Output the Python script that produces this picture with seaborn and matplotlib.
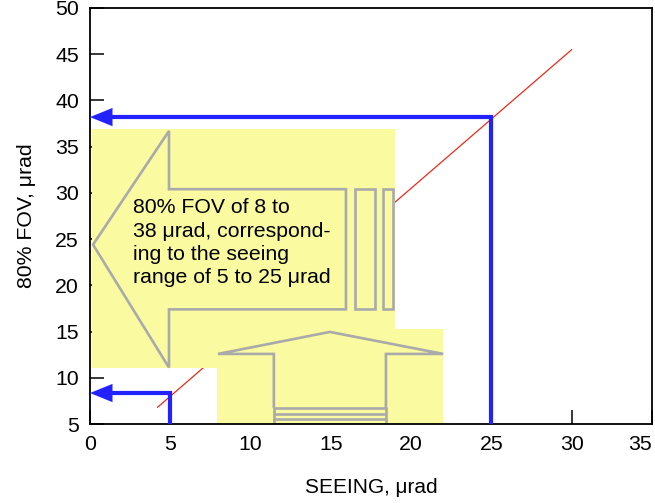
import matplotlib
matplotlib.use("Agg")
import matplotlib.pyplot as plt
import seaborn as sns
import pandas as pd
from matplotlib.patches import Rectangle, Polygon

sns.set_theme(style="white")
plt.rcParams['font.family'] = ['Liberation Sans', 'DejaVu Sans']

# Data
seeing_line = [4.2, 30.0]
fov_line = [6.8, 45.5]
seeing_marks = [5, 25]
fov_marks = [8.35, 38.2]
x_ticks = [0, 5, 10, 15, 20, 25, 30, 35]
y_ticks = [5, 10, 15, 20, 25, 30, 35, 40, 45, 50]
note = "80% FOV of 8 to\n38 \u03bcrad, correspond-\ning to the seeing\nrange of 5 to 25 \u03bcrad"

fig = plt.figure(figsize=(6.55, 5.03), dpi=100)
ax = fig.add_axes([90/655, 79/503, 562/655, 416/503])

df = pd.DataFrame({"seeing": seeing_line, "fov": fov_line})
sns.lineplot(data=df, x="seeing", y="fov", ax=ax, color="#ee2a1a", lw=0.9, sort=False, zorder=1)

yellow = "#fafaa0"
gray = "#aaaaaa"
glw = 1.9
ax.add_patch(Rectangle((0.12, 11.06), 18.9, 25.84, facecolor=yellow, edgecolor="none", zorder=1.5))
ax.add_patch(Rectangle((7.9, 5.0), 14.1, 10.3, facecolor=yellow, edgecolor="none", zorder=1.5))

# Left arrow outline
left_arrow = [(0.19, 24.4), (4.92, 36.7), (4.92, 30.4), (15.94, 30.4), (15.94, 17.4),
              (4.92, 17.4), (4.92, 11.1)]
ax.add_patch(Polygon(left_arrow, closed=True, fill=False, edgecolor=gray, lw=glw, zorder=2))
ax.add_patch(Rectangle((16.5, 17.4), 1.25, 13.0, fill=False, edgecolor=gray, lw=glw, zorder=2))
ax.add_patch(Rectangle((18.25, 17.4), 0.62, 13.0, fill=False, edgecolor=gray, lw=glw, zorder=2))

# Up arrow outline
up_arrow = [(11.45, 6.73), (11.45, 12.58), (7.97, 12.58), (14.94, 14.96), (22.0, 12.58),
            (18.43, 12.58), (18.43, 6.73)]
ax.add_patch(Polygon(up_arrow, closed=False, fill=False, edgecolor=gray, lw=glw, zorder=2))
for yy in [6.73, 6.08, 5.54, 5.05]:
    ax.plot([11.45, 18.43], [yy, yy], color=gray, lw=glw, zorder=2)
ax.plot([11.45, 11.45], [5.0, 6.73], color=gray, lw=glw, zorder=2)
ax.plot([18.43, 18.43], [5.0, 6.73], color=gray, lw=glw, zorder=2)

ax.text(2.65, 29.4, note, fontsize=15.3, va="top", ha="left", linespacing=1.28, color="black", zorder=3)

# Blue lines with arrows
blue = "#2222ff"
for sx, fy in zip(seeing_marks, fov_marks):
    ax.plot([sx, sx, 1.2], [5, fy, fy], color=blue, lw=3, solid_joinstyle="miter", zorder=3)
    ax.annotate("", xy=(0.0, fy), xytext=(1.8, fy),
                arrowprops=dict(arrowstyle="-|>,head_length=1.6,head_width=0.65", color=blue,
                                lw=0.1, shrinkA=0, shrinkB=0, mutation_scale=10), zorder=3)

ax.set_xlim(0, 35)
ax.set_ylim(5, 50)
ax.set_xticks(x_ticks)
ax.set_yticks(y_ticks)
ax.tick_params(axis="both", direction="in", length=10, width=1.1, labelsize=15.3, color="black",
               labelcolor="black", bottom=True, left=True, top=False, right=False, pad=8)
ax.get_xticklabels()[-1].set_horizontalalignment("right")
for s in ax.spines.values():
    s.set_color("black")
    s.set_linewidth(1.3)
ax.set_xlabel("SEEING, \u03bcrad", fontsize=15, color="black", labelpad=17)
ax.set_ylabel("80% FOV, \u03bcrad", fontsize=15.3, color="black", labelpad=14)

fig.savefig("out.png", dpi=100)
